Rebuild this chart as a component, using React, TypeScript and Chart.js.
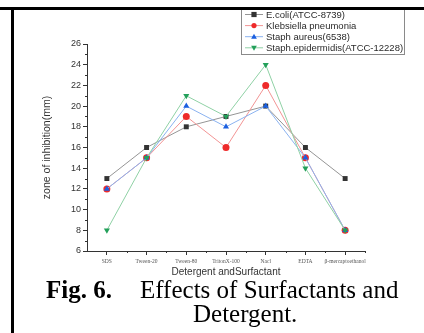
import React, { useEffect, useRef } from "react";
import { Chart, registerables } from "chart.js";

Chart.register(...registerables);

const categories = ["SDS", "Tween-20", "Tween-80", "TritonX-100", "Nacl", "EDTA", "β-mercaptoethanol"];
const ecoli = [13, 16, 18, 19, 20, 16, 13];
const klebsiella = [12, 15, 19, 16, 22, 15, 8];
const aureus = [12, 15, 20, 18, 20, 15, 8];
const epidermidis = [8, 15, 21, 19, 24, 14, 8];
const seriesNames = ["E.coli(ATCC-8739)", "Klebsiella pneumonia", "Staph aureus(6538)", "Staph.epidermidis(ATCC-12228)"];
const yMin = 6;
const yMax = 26;
const yStep = 2;

const markerColors = ["#333333", "#ee2a2a", "#1a5fe0", "#23a05a"];
const lineColors = ["#959595", "#f29494", "#8ab2f0", "#8fd1a5"];
const pointStyles = ["rect", "circle", "triangle", "triangle"];
const pointRotations = [0, 0, 0, 180];

function drawMarker(ctx: CanvasRenderingContext2D, style: string, rot: number, x: number, y: number, r: number, color: string) {
  ctx.save();
  ctx.fillStyle = color;
  ctx.beginPath();
  if (style === "rect") {
    ctx.rect(x - r, y - r, 2 * r, 2 * r);
  } else if (style === "circle") {
    ctx.arc(x, y, r, 0, Math.PI * 2);
  } else {
    const s = rot === 180 ? -1 : 1;
    ctx.moveTo(x, y - s * r * 1.1);
    ctx.lineTo(x + r * 1.1, y + s * r * 0.8);
    ctx.lineTo(x - r * 1.1, y + s * r * 0.8);
    ctx.closePath();
  }
  ctx.fill();
  ctx.restore();
}

const decorPlugin = {
  id: "decor",
  afterDraw(chart: any) {
    const ctx = chart.ctx as CanvasRenderingContext2D;
    const xs = chart.scales.x;
    const ys = chart.scales.y;
    const area = chart.chartArea;
    ctx.save();
    ctx.strokeStyle = "#333";
    ctx.lineWidth = 1;
    for (let v = yMin + 1; v < yMax; v += yStep) {
      const py = Math.round(ys.getPixelForValue(v)) + 0.5;
      ctx.beginPath();
      ctx.moveTo(area.left, py);
      ctx.lineTo(area.left - 2, py);
      ctx.stroke();
    }
    for (let i = 0; i < categories.length; i++) {
      const p0 = xs.getPixelForValue(i);
      const p1 = xs.getPixelForValue(i + 1);
      const px = Math.round((p0 + p1) / 2) + 0.5;
      if (px > area.right + 1) continue;
      ctx.beginPath();
      ctx.moveTo(px, area.bottom);
      ctx.lineTo(px, area.bottom + 2);
      ctx.stroke();
    }
    ctx.fillStyle = "#333";
    ctx.font = "10px 'Liberation Sans', Arial, sans-serif";
    ctx.textAlign = "center";
    ctx.textBaseline = "middle";
    ctx.fillText("Detergent andSurfactant", (area.left + area.right) / 2, 272);
    ctx.save();
    ctx.font = "10.5px 'Liberation Sans', Arial, sans-serif";
    ctx.translate(47, (area.top + area.bottom) / 2);
    ctx.rotate(-Math.PI / 2);
    ctx.fillText("zone of inhibition(mm)", 0, 0);
    ctx.restore();

    const bx = 241.5, by = 9.5, bw = 163, bh = 45;
    ctx.fillStyle = "#fff";
    ctx.fillRect(bx, by, bw, bh);
    ctx.strokeStyle = "#8a8a8a";
    ctx.strokeRect(bx, by, bw, bh);
    ctx.font = "9.5px 'Liberation Sans', Arial, sans-serif";
    ctx.textAlign = "left";
    for (let i = 0; i < seriesNames.length; i++) {
      const ry = 14.5 + i * 11.1;
      ctx.strokeStyle = lineColors[i];
      ctx.beginPath();
      ctx.moveTo(245, ry);
      ctx.lineTo(263, ry);
      ctx.stroke();
      drawMarker(ctx, pointStyles[i], pointRotations[i], 254, ry, 2.6, markerColors[i]);
      ctx.fillStyle = "#2a2a2a";
      ctx.fillText(seriesNames[i], 266, ry + 0.5);
    }
    ctx.restore();
  },
};

export default function App() {
  const ref = useRef<HTMLCanvasElement | null>(null);
  useEffect(() => {
    if (!ref.current) return;
    const allSeries = [ecoli, klebsiella, aureus, epidermidis];
    const chart = new Chart(ref.current, {
      type: "line",
      data: {
        labels: categories,
        datasets: allSeries.map((d, i) => ({
          label: seriesNames[i],
          data: d,
          order: allSeries.length - i,
          borderColor: lineColors[i],
          backgroundColor: markerColors[i],
          pointBackgroundColor: markerColors[i],
          pointBorderColor: markerColors[i],
          pointBorderWidth: 0,
          borderWidth: 1,
          pointRadius: 3.5,
          pointStyle: pointStyles[i] as any,
          pointRotation: pointRotations[i],
          tension: 0,
        })),
      },
      options: {
        responsive: false,
        animation: false,
        events: [],
        layout: { padding: { left: 0, right: 59, top: 44, bottom: 0 } },
        plugins: { legend: { display: false }, tooltip: { enabled: false }, title: { display: false } },
        scales: {
          x: {
            type: "category",
            offset: true,
            grid: { offset: false, drawOnChartArea: false, drawTicks: true, tickLength: 4, color: "#333" },
            border: { color: "#333", width: 1 },
            ticks: {
              color: "#555",
              font: { family: "'Liberation Serif', 'Times New Roman', serif", size: 5.5 },
              padding: 3,
              maxRotation: 0,
              autoSkip: false,
            },
            afterFit(scale: any) {
              scale.height = 29;
            },
          },
          y: {
            min: yMin,
            max: yMax,
            grid: { drawOnChartArea: false, drawTicks: true, tickLength: 4, color: "#333" },
            border: { color: "#333", width: 1 },
            ticks: {
              stepSize: yStep,
              color: "#333",
              font: { family: "'Liberation Sans', Arial, sans-serif", size: 9 },
              padding: 2,
            },
            afterFit(scale: any) {
              scale.width = 87;
            },
          },
        },
      },
      plugins: [decorPlugin],
    });
    return () => chart.destroy();
  }, []);

  const serif = "'Liberation Serif', 'Times New Roman', serif";
  return (
    <div style={{ position: "fixed", left: 0, top: 0, width: 424, height: 333, overflow: "hidden", background: "#fff" }}>
      <canvas ref={ref} width={424} height={280} style={{ position: "absolute", left: 0, top: 0, width: 424, height: 280 }} />
      <div style={{ position: "absolute", left: 0, top: 7, width: 424, height: 2.5, background: "#000" }} />
      <div style={{ position: "absolute", left: 11, top: 7, width: 2.5, height: 326, background: "#000" }} />
      <div
        style={{
          position: "absolute",
          left: 46,
          top: 277.5,
          fontFamily: serif,
          fontSize: 25,
          lineHeight: "23px",
          color: "#000",
          whiteSpace: "pre",
        }}
      >
        <b>Fig. 6.</b>
        <span style={{ marginLeft: 28 }}>Effects of Surfactants and</span>
      </div>
      <div
        style={{
          position: "absolute",
          left: 193,
          top: 302,
          fontFamily: serif,
          fontSize: 25,
          lineHeight: "23px",
          color: "#000",
          whiteSpace: "pre",
        }}
      >
        Detergent.
      </div>
    </div>
  );
}
